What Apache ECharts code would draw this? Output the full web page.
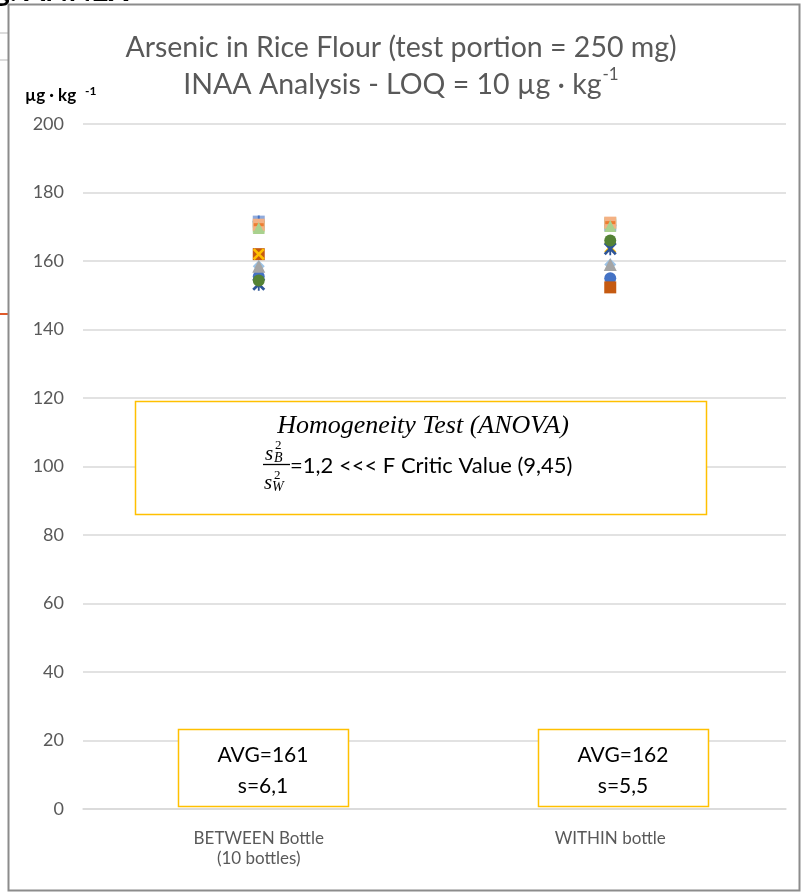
<!DOCTYPE html>
<html>
<head>
<meta charset="utf-8">
<script src="https://cdn.jsdelivr.net/npm/echarts@6/dist/echarts.min.js"></script>
<style>
html,body{margin:0;padding:0;background:#fff;}
#chart{width:802px;height:895px;}
</style>
</head>
<body>
<div id="chart"></div>
<script>
// ---- data ----
const categories = ['BETWEEN Bottle\n(10 bottles)', 'WITHIN bottle'];
const bottleNames = ['Bottle 1','Bottle 2','Bottle 3','Bottle 4','Bottle 5','Bottle 6','Bottle 7','Bottle 8','Bottle 9','Bottle 10'];
const betweenValues = [155.5, 162.0, 158.5, 162.0, 153.2, 154.3, 171.5, 170.0, 170.6, 169.6];
const withinValues  = [155.0, 152.3, 159.0, 164.0, 163.6, 166.0, 170.4, 171.0, 171.2, 170.2];
const yTicks = [0, 20, 40, 60, 80, 100, 120, 140, 160, 180, 200];
const avgLabels = ['AVG=161', 'AVG=162'];
const sdLabels = ['s=6,1', 's=5,5'];
const titleLine1 = 'Arsenic in Rice Flour (test portion = 250 mg)';
const titleLine2 = 'INAA Analysis - LOQ = 10 µg · kg';

// ---- styles ----
const P_X = 'path://M1.5,0 L5,3.5 L8.5,0 L10,1.5 L6.5,5 L10,8.5 L8.5,10 L5,6.5 L1.5,10 L0,8.5 L3.5,5 L0,1.5 Z';
const P_PLUS = 'path://M4.2,0 H5.8 V4.2 H10 V5.8 H5.8 V10 H4.2 V5.8 H0 V4.2 H4.2 Z';
const P_STAR = 'path://M1.5,0 L5,3.5 L8.5,0 L10,1.5 L6.5,5 L10,8.5 L8.5,10 L5,6.5 L1.5,10 L0,8.5 L3.5,5 L0,1.5 Z M4.3,0 H5.7 V10 H4.3 Z';
const P_DASH = 'path://M0,0 H10 V10 H0 Z';
const bottleStyles = [
  {symbol:'circle', size:12, color:'#4472C4'},
  {symbol:'rect', size:12, color:'#C55A11'},
  {symbol:'triangle', size:13, color:'#A5A5A5', under:{symbol:'diamond', size:12, color:'#9DC3E6'}},
  {symbol:P_X, size:12, color:'#FFC000'},
  {symbol:P_STAR, size:13, color:'#2F5597'},
  {symbol:'circle', size:12, color:'#548235'},
  {symbol:'rect', size:12, color:'#8FAADC', over:{symbol:P_PLUS, size:12, color:'#4472C4'}},
  {symbol:'rect', size:12, color:'#A9D18E', over:{symbol:P_DASH, size:[10,3], color:'#ED7D31'}},
  {symbol:'rect', size:12, color:'#F4B183', over:{symbol:P_DASH, size:[10,3], color:'#ED7D31'}},
  {symbol:'triangle', size:12, color:'#A9D18E'}
];

const series = [];
bottleNames.forEach((name, i) => {
  const st = bottleStyles[i];
  const data = [betweenValues[i], withinValues[i]];
  if (st.under) {
    series.push({type:'scatter', name:name, data:data, symbol:st.under.symbol, symbolSize:st.under.size,
      itemStyle:{color:st.under.color, opacity:1}, silent:true, z:2});
  }
  series.push({type:'scatter', name:name, data:data, symbol:st.symbol, symbolSize:st.size,
    itemStyle:{color:st.color, opacity:1}, z:2});
  if (st.over) {
    series.push({type:'scatter', name:name, data:data, symbol:st.over.symbol, symbolSize:st.over.size,
      itemStyle:{color:st.over.color, opacity:1}, silent:true, z:2});
  }
});

const FONT = 'Lato, "Open Sans", sans-serif';
const SERIF = '"Liberation Serif", "DejaVu Serif", serif';
const YEL = '#FFC000';

function box(x, y, w, h) {
  return {type:'rect', z:50, shape:{x:x, y:y, width:w, height:h},
    style:{fill:'#fff', stroke:YEL, lineWidth:1.5}};
}
function txt(x, y, t, size, extra) {
  return Object.assign({type:'text', z:60, x:x, y:y,
    style:Object.assign({text:t, fill:'#000', font:size + 'px ' + FONT, textAlign:'center', textVerticalAlign:'middle'}, extra || {})});
}

const graphics = [
  // cropped document text / marks outside the chart frame
  {type:'text', z:1, x:-6, y:-24, style:{text:'g. ANNEX', fill:'#000', font:'bold 30px ' + FONT}},
  {type:'line', z:1, shape:{x1:0, y1:33, x2:8, y2:33}, style:{stroke:'#d0d0d0', lineWidth:1.5}},
  {type:'line', z:1, shape:{x1:0, y1:60, x2:8, y2:60}, style:{stroke:'#d0d0d0', lineWidth:1.5}},
  {type:'line', z:1, shape:{x1:0, y1:314, x2:8, y2:314}, style:{stroke:'#E05A2A', lineWidth:2}},
  // chart frame
  {type:'rect', z:1, shape:{x:8.5, y:4.5, width:791, height:886}, style:{fill:null, stroke:'#8c8c8c', lineWidth:2}},
  // unit label
  {type:'text', z:60, x:25, y:104, style:{text:'µg · kg', fill:'#000', font:'bold 17px ' + FONT, textVerticalAlign:'bottom'}},
  {type:'text', z:60, x:85, y:97, style:{text:'-1', fill:'#000', font:'bold 12px ' + FONT, textVerticalAlign:'bottom'}},
  // homogeneity box
  box(135.5, 401.5, 571, 113),
  {type:'text', z:60, x:423, y:426, style:{text:'Homogeneity Test (ANOVA)', fill:'#000', font:'italic 26px ' + SERIF, textAlign:'center', textVerticalAlign:'middle'}},
  {type:'text', z:60, x:265, y:454, style:{text:'s', fill:'#000', font:'italic 21px ' + SERIF, textVerticalAlign:'middle'}},
  {type:'text', z:60, x:275, y:446, style:{text:'2', fill:'#000', font:'13px ' + SERIF, textVerticalAlign:'middle'}},
  {type:'text', z:60, x:274, y:458, style:{text:'B', fill:'#000', font:'italic 14px ' + SERIF, textVerticalAlign:'middle'}},
  {type:'line', z:60, shape:{x1:263, y1:464.5, x2:290, y2:464.5}, style:{stroke:'#000', lineWidth:1.3}},
  {type:'text', z:60, x:264, y:483, style:{text:'s', fill:'#000', font:'italic 21px ' + SERIF, textVerticalAlign:'middle'}},
  {type:'text', z:60, x:274, y:476, style:{text:'2', fill:'#000', font:'13px ' + SERIF, textVerticalAlign:'middle'}},
  {type:'text', z:60, x:272, y:487, style:{text:'W', fill:'#000', font:'italic 14px ' + SERIF, textVerticalAlign:'middle'}},
  {type:'text', z:60, x:290, y:466, style:{text:'=1,2 <<< F Critic Value (9,45)', fill:'#000', font:'22px ' + FONT, textVerticalAlign:'middle'}},
  // AVG boxes
  box(178.5, 729.5, 170, 77),
  txt(263, 755, avgLabels[0], 21),
  txt(263, 786, sdLabels[0], 21),
  box(538.5, 729.5, 170, 77),
  txt(623, 755, avgLabels[1], 21),
  txt(623, 786, sdLabels[1], 21)
];

const chart = echarts.init(document.getElementById('chart'), null, {renderer:'canvas'});
chart.setOption({
  backgroundColor:'#fff',
  animation:false,
  title:{
    text:'{a|' + titleLine1 + '}\n{a|' + titleLine2 + '}{s|-1}',
    left:'center', top:24,
    textStyle:{
      rich:{
        a:{fontFamily:FONT, fontSize:28.5, fontWeight:'normal', color:'#595959', lineHeight:37},
        s:{fontFamily:FONT, fontSize:17, fontWeight:'normal', color:'#595959', lineHeight:37, verticalAlign:'top', padding:[0,0,14,1]}
      }
    }
  },
  grid:{left:83, right:16, top:124, bottom:86, containLabel:false},
  xAxis:{
    type:'category', data:categories, boundaryGap:true,
    axisLine:{show:true, lineStyle:{color:'#D9D9D9', width:1.5}},
    axisTick:{show:false},
    axisLabel:{color:'#595959', fontFamily:FONT, fontSize:17, lineHeight:20, margin:20}
  },
  yAxis:{
    type:'value', min:yTicks[0], max:yTicks[yTicks.length-1], interval:yTicks[1]-yTicks[0],
    axisLine:{show:false}, axisTick:{show:false},
    splitLine:{lineStyle:{color:'#D9D9D9', width:1.5}},
    axisLabel:{color:'#595959', fontFamily:FONT, fontSize:18, margin:19}
  },
  series:series,
  graphic:graphics
});
</script>
</body>
</html>
